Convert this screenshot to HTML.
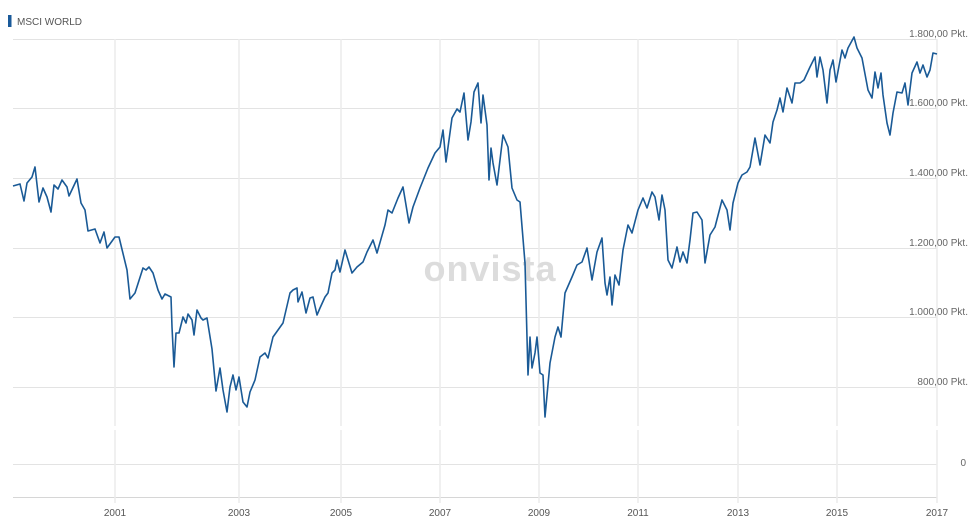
<!DOCTYPE html>
<html><head><meta charset="utf-8"><style>
body{margin:0;background:#fff;width:980px;height:530px;overflow:hidden}
svg{display:block;font-family:"Liberation Sans",sans-serif}
</style></head><body>
<svg width="980" height="530" viewBox="0 0 980 530">
<rect x="8" y="15" width="3.5" height="12" fill="#1a5a9a"/>
<text x="17" y="25" font-size="10" fill="#555">MSCI WORLD</text>
<g stroke="#e3e3e3" stroke-width="1">
<line x1="13" y1="39.5" x2="937" y2="39.5"/>
<line x1="13" y1="108.5" x2="937" y2="108.5"/>
<line x1="13" y1="178.5" x2="937" y2="178.5"/>
<line x1="13" y1="248.5" x2="937" y2="248.5"/>
<line x1="13" y1="317.5" x2="937" y2="317.5"/>
<line x1="13" y1="387.5" x2="937" y2="387.5"/>
<line x1="13" y1="464.5" x2="937" y2="464.5"/>
<line x1="13" y1="497.5" x2="937" y2="497.5" stroke="#d6d6d6"/>
</g>
<g stroke="#ececec" stroke-width="1.5">
<path d="M115 39V426M115 430V503M239 39V426M239 430V503M341 39V426M341 430V503M440 39V426M440 430V503M539 39V426M539 430V503M638 39V426M638 430V503M738 39V426M738 430V503M837 39V426M837 430V503M937 39V426M937 430V503"/>
</g>
<text x="490" y="281" font-size="36" font-weight="bold" fill="#dcdcdc" text-anchor="middle" letter-spacing="1">onvista</text>
<g font-size="10" fill="#666" text-anchor="end">
<text x="968" y="37">1.800,00 Pkt.</text>
<text x="968" y="106">1.600,00 Pkt.</text>
<text x="968" y="176">1.400,00 Pkt.</text>
<text x="968" y="246">1.200,00 Pkt.</text>
<text x="968" y="315">1.000,00 Pkt.</text>
<text x="968" y="385">800,00 Pkt.</text>
<text x="966" y="466">0</text>
</g>
<g font-size="10" fill="#555" text-anchor="middle">
<text x="115" y="516">2001</text><text x="239" y="516">2003</text><text x="341" y="516">2005</text>
<text x="440" y="516">2007</text><text x="539" y="516">2009</text><text x="638" y="516">2011</text>
<text x="738" y="516">2013</text><text x="837" y="516">2015</text><text x="937" y="516">2017</text>
</g>
<polyline fill="none" stroke="#1a5a96" stroke-width="1.6" stroke-linejoin="round" points="
13,186 20,184 24,201 27,183 32,177 35,167 39,202 43,188 47,197 51,212 54,185 58,189 62,180 67,187 69,196 77,179 81,203 85,210 88,231 95,229 100,243 104,232 107,248 115,237 119,237 127,270 130,299 135,293 143,268 146,270 149,267 153,273 158,290 162,299 165,294 171,297 172,327 174,367 176,333 179,333 183,317 186,323 188,314 192,320 194,335 197,310 201,318 203,320 207,318 212,349 216,391 220,368 223,390 227,412 230,387 233,375 236,390 239,377 243,402 247,407 250,392 255,380 260,357 265,353 268,358 273,337 278,330 283,323 290,293 293,290 297,288 298,302 302,292 306,313 310,298 313,297 317,315 320,308 325,297 328,293 332,273 335,270 337,260 340,272 345,250 352,273 357,267 363,262 367,252 373,240 377,253 385,225 388,210 392,213 398,198 403,187 409,223 413,207 420,188 428,168 435,153 440,147 443,130 446,162 452,118 457,109 460,112 464,93 468,140 471,122 474,92 478,83 481,123 483,95 487,125 489,180 491,148 493,163 497,185 500,160 503,135 508,147 512,188 517,200 520,202 525,263 528,375 530,337 532,368 535,353 537,337 540,373 543,375 545,417 550,363 555,337 558,327 561,337 565,293 572,277 577,265 582,262 587,248 592,280 597,252 602,238 605,283 607,295 610,277 612,305 615,275 619,285 623,250 628,225 632,233 638,210 643,198 647,208 652,192 655,197 659,220 662,195 665,210 668,260 672,268 677,247 680,262 683,252 687,263 690,240 693,213 697,212 702,220 705,263 710,235 715,227 722,200 727,210 730,230 733,203 738,183 742,175 747,172 750,167 755,138 760,165 765,135 770,143 773,122 777,110 780,98 783,112 787,88 792,103 795,83 800,83 804,80 810,67 815,57 817,77 820,57 823,70 827,103 830,70 833,60 836,82 842,50 845,58 848,48 854,37 857,48 862,58 868,90 872,98 875,72 878,88 881,73 883,95 887,123 890,135 893,113 897,92 902,93 905,83 908,105 912,73 917,62 920,73 923,65 927,77 930,70 933,53 937,54"/>
</svg>
</body></html>
